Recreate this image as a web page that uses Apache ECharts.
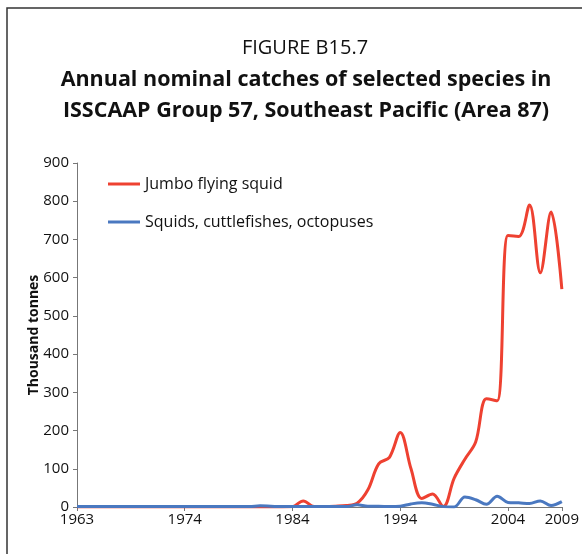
<!DOCTYPE html>
<html>
<head>
<meta charset="utf-8">
<script src="https://cdn.jsdelivr.net/npm/echarts@6/dist/echarts.min.js"></script>
<style>
  html, body { margin: 0; padding: 0; background: #fff; }
  #chart { width: 582px; height: 554px; }
</style>
</head>
<body>
<div id="chart"></div>
<script>
// one point per year, 1964..2009 (axis is labelled from 1963 as in the original)
var years = [];
for (var y = 1964; y <= 2009; y++) years.push(String(y));

var tickIndex = [0, 10, 20, 30, 40, 45];
var tickLabels = ['1963', '1974', '1984', '1994', '2004', '2009'];

// thousand tonnes
var jumboSquid = [
  0, 0, 0, 0, 0, 0, 0, 0, 0, 0,
  0, 0, 0, 0, 0, 0, 0, 0, 0, 0,
  1, 16, 1, 1, 2, 4, 10, 45, 113, 130,
  195, 100, 22, 34, 1, 75, 125, 170, 283, 278,
  710, 708, 790, 613, 772, 570
];
var squidsOther = [
  1, 1, 1, 1, 1, 1, 1, 1, 1, 1,
  1, 1, 1, 1, 1, 1, 1, 3, 2, 1,
  1, 1, 1, 1, 1, 1, 6, 2, 2, 1,
  2, 8, 11, 7, 1, 0, 26, 19, 7, 28,
  12, 11, 9, 16, 4, 14
];

var font = '"Open Sans", "Noto Sans", sans-serif';
var chart = echarts.init(document.getElementById('chart'));

chart.setOption({
  animation: false,
  textStyle: { fontFamily: font },
  graphic: [{
    type: 'rect',
    shape: { x: 7, y: 8, width: 700, height: 700 },
    style: { fill: 'none', stroke: '#333', lineWidth: 1.5 }
  }],
  title: [
    {
      left: 300, textAlign: 'center', top: 33, text: 'FIGURE B15.7',
      textStyle: { fontFamily: font, fontSize: 20, fontWeight: 'normal', color: '#111' }
    },
    {
      left: 301, textAlign: 'center', top: 64, text: 'Annual nominal catches of selected species in',
      textStyle: { fontFamily: font, fontSize: 21.5, fontWeight: 'bold', color: '#111' }
    },
    {
      left: 301, textAlign: 'center', top: 95, text: 'ISSCAAP Group 57, Southeast Pacific (Area 87)',
      textStyle: { fontFamily: font, fontSize: 21.5, fontWeight: 'bold', color: '#111' }
    }
  ],
  legend: {
    left: 103,
    top: 171,
    orient: 'vertical',
    itemGap: 22,
    itemWidth: 32,
    itemHeight: 3,
    icon: 'rect',
    textStyle: { fontFamily: font, fontSize: 16, color: '#111' },
    data: ['Jumbo flying squid', 'Squids, cuttlefishes, octopuses']
  },
  grid: { left: 77, right: 17, top: 163, bottom: 47, containLabel: false },
  xAxis: {
    type: 'category',
    data: years,
    boundaryGap: false,
    axisLine: { lineStyle: { color: '#777', width: 1 } },
    axisTick: {
      length: 4,
      lineStyle: { color: '#777' },
      interval: function (i) { return tickIndex.indexOf(i) >= 0; }
    },
    axisLabel: {
      interval: function (i) { return tickIndex.indexOf(i) >= 0; },
      formatter: function (v, i) { return tickLabels[tickIndex.indexOf(i)]; },
      color: '#111',
      fontSize: 15,
      margin: 5,
      showMaxLabel: true
    },
    splitLine: { show: false }
  },
  yAxis: {
    type: 'value',
    min: 0,
    max: 900,
    interval: 100,
    name: 'Thousand tonnes',
    nameLocation: 'middle',
    nameGap: 36,
    nameMoveOverlap: false,
    nameTextStyle: { fontFamily: font, fontSize: 14, fontWeight: 'bold', color: '#111' },
    axisLine: { show: true, lineStyle: { color: '#777', width: 1 } },
    axisTick: { show: true, length: 4, lineStyle: { color: '#777' } },
    axisLabel: { color: '#111', fontSize: 15, margin: 8 },
    splitLine: { show: false }
  },
  series: [
    {
      name: 'Jumbo flying squid',
      type: 'line',
      data: jumboSquid,
      smooth: 0.35,
      showSymbol: false,
      lineStyle: { color: '#ee4131', width: 3 },
      itemStyle: { color: '#ee4131' },
      z: 2
    },
    {
      name: 'Squids, cuttlefishes, octopuses',
      type: 'line',
      data: squidsOther,
      smooth: 0.35,
      showSymbol: false,
      lineStyle: { color: '#4a78c0', width: 3 },
      itemStyle: { color: '#4a78c0' },
      z: 3
    }
  ]
});
</script>
</body>
</html>
